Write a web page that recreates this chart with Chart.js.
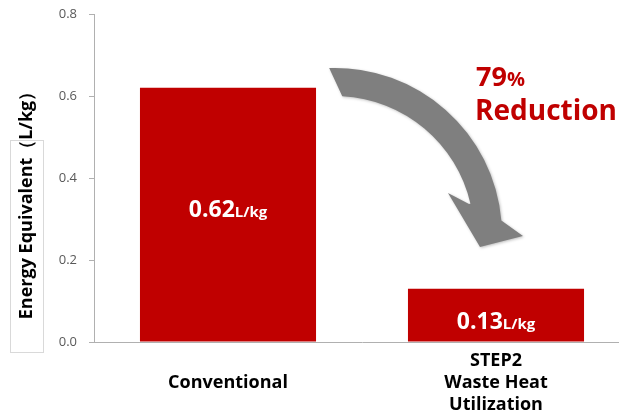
<!DOCTYPE html>
<html>
<head>
<meta charset="utf-8">
<script src="https://cdn.jsdelivr.net/npm/chart.js@4.4.0/dist/chart.umd.min.js"></script>
<style>
  html, body { margin: 0; padding: 0; background: #fff; overflow: hidden; }
  #wrap { width: 630px; height: 419px; }
</style>
</head>
<body>
<div id="wrap"><canvas id="chart"></canvas></div>
<script>
const categories = [['', 'Conventional'], ['STEP2', 'Waste Heat', 'Utilization']];
const energyValues = [0.62, 0.13];
const valueUnit = 'L/kg';
const yTicks = [0, 0.2, 0.4, 0.6, 0.8];
const reductionText = ['79', '%', 'Reduction'];

const RED = '#c00000';

// bar labels inside bars: big number + small unit
const barLabels = {
  id: 'barLabels',
  afterDatasetsDraw(chart) {
    const ctx = chart.ctx;
    const meta = chart.getDatasetMeta(0);
    ctx.save();
    ctx.fillStyle = '#fff';
    ctx.textBaseline = 'alphabetic';
    meta.data.forEach((bar, i) => {
      const num = energyValues[i].toFixed(2);
      ctx.font = 'bold 23px "Open Sans"';
      const w1 = ctx.measureText(num).width;
      ctx.font = 'bold 15px "Open Sans"';
      const w2 = ctx.measureText(valueUnit).width;
      const x0 = bar.x - (w1 + w2) / 2;
      const yMid = (bar.y + bar.base) / 2;
      const y = i === 0 ? yMid + 2 : yMid + 14;
      ctx.font = 'bold 23px "Open Sans"';
      ctx.fillText(num, x0, y);
      ctx.font = 'bold 15px "Open Sans"';
      ctx.fillText(valueUnit, x0 + w1, y);
    });
    ctx.restore();
  }
};

// curved arrow + reduction text + y title box
const decor = {
  id: 'decor',
  afterDraw(chart) {
    const ctx = chart.ctx;
    const d = Math.PI / 180;
    const cx = 335, cy = 235;
    ctx.save();
    ctx.shadowColor = 'rgba(0,0,0,0.25)';
    ctx.shadowBlur = 3;
    ctx.shadowOffsetX = 1;
    ctx.shadowOffsetY = 1;
    ctx.fillStyle = '#7f7f7f';
    ctx.beginPath();
    ctx.arc(cx, cy, 167, -92 * d, -5 * d);
    ctx.lineTo(523, 236);
    ctx.lineTo(480, 247);
    ctx.lineTo(448, 193);
    ctx.lineTo(469, 204);
    ctx.arc(cx, cy, 139, -13 * d, -87 * d, true);
    ctx.closePath();
    ctx.fill();
    ctx.restore();

    ctx.save();
    ctx.fillStyle = RED;
    ctx.textBaseline = 'alphabetic';
    ctx.font = 'bold 27px "Open Sans"';
    ctx.fillText(reductionText[0], 476, 86);
    const w = ctx.measureText(reductionText[0]).width;
    ctx.font = 'bold 20px "Open Sans"';
    ctx.fillText(reductionText[1], 476 + w, 86);
    ctx.font = 'bold 28px "Open Sans"';
    ctx.fillText(reductionText[2], 475, 120);
    ctx.restore();

    // y axis title
    ctx.save();
    ctx.fillStyle = '#fff';
    ctx.strokeStyle = '#d9d9d9';
    ctx.lineWidth = 1;
    ctx.fillRect(10.5, 140.5, 33, 212);
    ctx.strokeRect(10.5, 140.5, 33, 212);
    ctx.translate(27, 201);
    ctx.rotate(-Math.PI / 2);
    ctx.fillStyle = '#000';
    ctx.textAlign = 'center';
    ctx.textBaseline = 'middle';
    ctx.font = 'bold 18px "Open Sans"';
    ctx.fillText('Energy Equivalent（L/kg）', 0, 0);
    ctx.restore();
  }
};

new Chart(document.getElementById('chart'), {
  type: 'bar',
  data: {
    labels: categories,
    datasets: [{
      data: energyValues,
      backgroundColor: RED,
      borderWidth: 0,
      barPercentage: 0.657,
      categoryPercentage: 1
    }]
  },
  options: {
    responsive: true,
    maintainAspectRatio: false,
    animation: false,
    layout: { padding: { top: 14, left: 0, right: 0, bottom: 0 } },
    plugins: { legend: { display: false }, tooltip: { enabled: false } },
    scales: {
      x: {
        afterFit: (s) => { s.height = 77; s.paddingLeft = 0; s.paddingRight = 0; },
        grid: { drawOnChartArea: false, drawTicks: false },
        border: { color: '#b0b0b0', width: 1 },
        ticks: {
          padding: 8,
          color: '#000',
          font: { family: 'Open Sans', size: 18, weight: 'bold', lineHeight: 1.22 },
          maxRotation: 0
        }
      },
      y: {
        min: 0,
        max: 0.8,
        afterFit: (s) => { s.width = 94; s.paddingTop = 0; s.paddingBottom = 0; },
        afterBuildTicks: (s) => { s.ticks = yTicks.map(v => ({ value: v })); },
        grid: { drawOnChartArea: false, drawTicks: true, tickLength: 5, color: '#b0b0b0' },
        border: { color: '#b0b0b0', width: 1 },
        ticks: {
          padding: 12,
          color: '#595959',
          font: { family: 'Open Sans', size: 13 },
          callback: (v) => v.toFixed(1)
        }
      }
    }
  },
  plugins: [barLabels, decor]
});
</script>
</body>
</html>
